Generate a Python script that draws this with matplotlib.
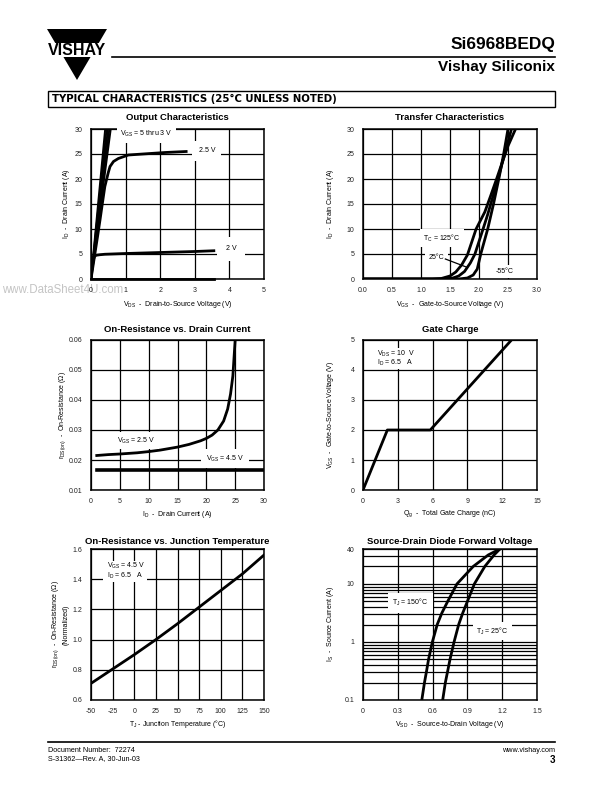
import matplotlib
matplotlib.use('Agg')
import matplotlib.pyplot as plt
from matplotlib import font_manager
from matplotlib.patches import Polygon, Rectangle
from matplotlib.ticker import NullFormatter, FixedLocator

# ---------------- data ----------------
# Output characteristics
bundle_vds_at_30a = [0.41, 0.45, 0.49, 0.53, 0.57]   # VGS = 5 thru 3 V (near-linear)
out25_vds = [0, 0.1, 0.2, 0.26, 0.33, 0.4, 0.5, 0.55, 0.65, 0.79, 1.08, 1.5, 2.14, 2.75]
out25_id = [0, 4.5, 9.0, 11.8, 15.2, 18.5, 21.3, 22.5, 23.5, 24.1, 24.8, 25.0, 25.3, 25.5]
out2_vds = [0, 0.03, 0.07, 0.1, 0.15, 0.25, 0.4, 1.0, 2.0, 3.0, 3.55]
out2_id = [0, 2.0, 3.9, 4.5, 4.75, 4.85, 4.95, 5.1, 5.3, 5.5, 5.65]
out15_vds = [0, 3.55]
out15_id = [0, 0]

# Transfer characteristics
t125_vgs = [0, 1.2, 1.35, 1.5, 1.6, 1.7, 1.8, 1.95, 2.1, 2.2, 2.3, 2.4, 2.5, 2.63]
t125_id = [0, 0, 0.1, 0.6, 1.4, 2.8, 4.8, 10.0, 13.4, 16.6, 19.9, 23.3, 26.6, 30]
t25_vgs = [0, 1.4, 1.55, 1.65, 1.75, 1.85, 1.93, 2.07, 2.15, 2.25, 2.35, 2.45, 2.56]
t25_id = [0, 0, 0.2, 0.6, 1.5, 3.2, 5.0, 10.0, 12.9, 16.9, 21.0, 25.3, 30]
tm55_vgs = [0, 1.65, 1.8, 1.9, 1.97, 2.03, 2.15, 2.25, 2.35, 2.43, 2.5]
tm55_id = [0, 0, 0.2, 0.8, 2.0, 5.0, 10.0, 15.0, 20.5, 25.3, 30]

# On-resistance vs drain current
ron25_id = [1, 3, 5, 8, 10, 12, 15, 17, 19, 20, 21, 22, 23, 23.7, 24.2, 24.6, 25]
ron25_r = [0.0215, 0.0218, 0.0220, 0.0224, 0.0228, 0.0233, 0.0243, 0.0252, 0.0264,
           0.0272, 0.0283, 0.0300, 0.0330, 0.0370, 0.0420, 0.0480, 0.0600]
ron45_id = [1, 30]
ron45_r = [0.0166, 0.0166]

# Gate charge
qg_nc = [0, 2.1, 5.8, 12.8]
qg_vgs = [0, 2.0, 2.0, 5.0]

# On-resistance vs junction temperature
tj_c = [-50, -25, 0, 25, 50, 75, 100, 125, 150]
rnorm = [0.71, 0.805, 0.90, 1.0, 1.105, 1.215, 1.325, 1.435, 1.56]

# Source-drain diode forward voltage
diode_is = [0.1, 0.2, 0.316, 0.5, 1, 2, 3.16, 5, 10, 20, 31.6, 40]
d150_vsd = [0.507, 0.53, 0.548, 0.565, 0.598, 0.64, 0.68, 0.73, 0.81, 0.95, 1.08, 1.18]
d25_vsd = [0.687, 0.71, 0.73, 0.75, 0.785, 0.825, 0.86, 0.90, 0.96, 1.05, 1.13, 1.18]

# ---------------- style ----------------
def has_font(name):
    try:
        font_manager.findfont(font_manager.FontProperties(family=name), fallback_to_default=False)
        return True
    except Exception:
        return False

SANS = 'Liberation Sans'
NARROW = 'Liberation Sans Narrow' if has_font('Liberation Sans Narrow') else 'Liberation Sans'

plt.rcParams['font.family'] = [SANS, 'DejaVu Sans']
plt.rcParams['mathtext.fontset'] = 'custom'
plt.rcParams['mathtext.rm'] = SANS
plt.rcParams['mathtext.it'] = SANS
plt.rcParams['mathtext.bf'] = SANS + ':bold'
plt.rcParams['mathtext.default'] = 'regular'
plt.rcParams['axes.unicode_minus'] = False

W, H = 612, 792
fig = plt.figure(figsize=(W / 100, H / 100), dpi=100)

# overlay axes in pixel coordinates
ov = fig.add_axes([0, 0, 1, 1])
ov.set_xlim(0, W)
ov.set_ylim(H, 0)
ov.axis('off')

LW = 2.0
GRID_LW = 0.9
TICK_FS = 5
LAB_FS = 5
TITLE_FS = 6.8
BOX = dict(facecolor='white', edgecolor='none', pad=2.5)

def add_ax(x0, y0, x1, y1):
    return fig.add_axes([x0 / W, 1 - y1 / H, (x1 - x0) / W, (y1 - y0) / H])

def style(ax):
    ax.grid(True, which='major', color='black', lw=GRID_LW)
    ax.set_axisbelow(True)
    ax.tick_params(length=0, labelsize=TICK_FS, pad=6, colors='#222222')
    for s in ax.spines.values():
        s.set_linewidth(1.1)
        s.set_color('black')

def ftext(x, y, s, **kw):
    ov.text(x, y, s, **kw)

def panel_text(ax_box, title, xlabel, ylabel, ylab_x, title_y, xlab_y):
    x0, y0, x1, y1 = ax_box
    cx = (x0 + x1) / 2
    ftext(cx, title_y, title, ha='center', va='center', fontsize=TITLE_FS,
          fontweight='bold', family=[NARROW, 'DejaVu Sans'])
    ftext(cx, xlab_y, xlabel, ha='center', va='center', fontsize=LAB_FS)
    ftext(ylab_x, (y0 + y1) / 2, ylabel, ha='center', va='center', fontsize=LAB_FS,
          rotation=90, multialignment='center')

# ---------------- header ----------------
ov.add_patch(Polygon([[47, 29], [107, 29], [77, 80]], closed=True, facecolor='black', edgecolor='none'))
ov.add_patch(Rectangle((40, 42.5), 75, 14, facecolor='white', edgecolor='none'))
ftext(77, 50.5, 'VISHAY', ha='center', va='center', fontsize=11.5, fontweight='bold',
      family=[SANS])
ov.plot([112, 555], [57, 57], color='black', lw=1.2)
ftext(555, 45, 'Si6968BEDQ', ha='right', va='center', fontsize=12.5, fontweight='bold',
      family=[NARROW, SANS])
ftext(555, 67, 'Vishay Siliconix', ha='right', va='center', fontsize=11, fontweight='bold',
      family=[NARROW, SANS])
ov.add_patch(Rectangle((48, 91), 507, 16, facecolor='white', edgecolor='black', lw=1.0))
ftext(52, 99, 'TYPICAL CHARACTERISTICS (25°C UNLESS NOTED)', ha='left', va='center',
      fontsize=7.3, fontweight='bold', family=['DejaVu Sans'])

# ---------------- footer ----------------
ov.plot([48, 555], [742, 742], color='black', lw=1.2)
ftext(48, 750, 'Document Number:  72274', ha='left', va='center', fontsize=5.2)
ftext(48, 759, 'S-31362\u2014Rev. A, 30-Jun-03', ha='left', va='center', fontsize=5.2)
ftext(555, 750, 'www.vishay.com', ha='right', va='center', fontsize=5.2)
ftext(555, 760, '3', ha='right', va='center', fontsize=7, fontweight='bold')

# watermark
ftext(2, 290, 'www.DataSheet4U.com', ha='left', va='center', fontsize=8.3, color='#c4c4c4', zorder=0)

# ---------------- panel 1: output characteristics ----------------
b1 = (91, 129, 264, 279)
ax = add_ax(*b1)
for v in bundle_vds_at_30a:
    ax.plot([0, v], [0, 30], color='black', lw=1.4, clip_on=True)
ax.plot(out25_vds, out25_id, color='black', lw=LW)
ax.plot(out2_vds, out2_id, color='black', lw=LW)
ax.plot(out15_vds, out15_id, color='black', lw=LW, clip_on=False)
ax.set_xlim(0, 5)
ax.set_ylim(0, 30)
ax.set_xticks([0, 1, 2, 3, 4, 5])
ax.set_yticks([0, 5, 10, 15, 20, 25, 30])
style(ax)
ax.text(0.85, 29.0, 'V$_{GS}$ = 5 thru 3 V', fontsize=5, ha='left', va='center', bbox=BOX, zorder=5)
ax.text(3.35, 25.6, '2.5 V', fontsize=5, ha='center', va='center',
        bbox=dict(facecolor='white', edgecolor='none', boxstyle='square,pad=0.9'), zorder=5)
ax.text(4.05, 6.0, '2 V', fontsize=5, ha='center', va='center',
        bbox=dict(facecolor='white', edgecolor='none', boxstyle='square,pad=1.2'), zorder=5)
panel_text(b1, 'Output Characteristics', 'V$_{DS}$  -  Drain-to-Source Voltage (V)',
           'I$_{D}$  -  Drain Current (A)', 67, 118, 305)

# ---------------- panel 2: transfer characteristics ----------------
b2 = (363, 129, 537, 279)
ax = add_ax(*b2)
ax.plot(t125_vgs, t125_id, color='black', lw=LW)
ax.plot(t25_vgs, t25_id, color='black', lw=LW)
ax.plot(tm55_vgs, tm55_id, color='black', lw=LW)
ax.set_xlim(0, 3)
ax.set_ylim(0, 30)
ax.set_xticks([0, 0.5, 1, 1.5, 2, 2.5, 3])
ax.set_xticklabels(['0.0', '0.5', '1.0', '1.5', '2.0', '2.5', '3.0'])
ax.set_yticks([0, 5, 10, 15, 20, 25, 30])
style(ax)
ax.text(1.36, 8.2, 'T$_{C}$ = 125°C', fontsize=5, ha='center', va='center', bbox=BOX, zorder=5)
ax.text(1.27, 4.3, '25°C', fontsize=5, ha='center', va='center', bbox=BOX, zorder=5)
ax.plot([1.42, 1.78], [4.0, 2.4], color='black', lw=0.9, zorder=6)
ax.text(2.44, 1.5, '-55°C', fontsize=5, ha='center', va='center', bbox=BOX, zorder=5)
panel_text(b2, 'Transfer Characteristics', 'V$_{GS}$  -  Gate-to-Source Voltage (V)',
           'I$_{D}$  -  Drain Current (A)', 330, 118, 305)

# ---------------- panel 3: on-resistance vs drain current ----------------
b3 = (91, 340, 264, 490)
ax = add_ax(*b3)
ax.plot(ron25_id, ron25_r, color='black', lw=LW)
ax.plot(ron45_id, ron45_r, color='black', lw=2.6)
ax.set_xlim(0, 30)
ax.set_ylim(0.01, 0.06)
ax.set_xticks([0, 5, 10, 15, 20, 25, 30])
ax.set_yticks([0.01, 0.02, 0.03, 0.04, 0.05, 0.06])
ax.set_yticklabels(['0.01', '0.02', '0.03', '0.04', '0.05', '0.06'])
style(ax)
ax.text(7.8, 0.0265, 'V$_{GS}$ = 2.5 V', fontsize=5, ha='center', va='center', bbox=BOX, zorder=5)
ax.text(23.3, 0.0205, 'V$_{GS}$ = 4.5 V', fontsize=5, ha='center', va='center',
        bbox=dict(facecolor='white', edgecolor='none', boxstyle='square,pad=0.7'), zorder=5)
panel_text(b3, 'On-Resistance vs. Drain Current', 'I$_{D}$  -  Drain Current (A)',
           'r$_{DS(on)}$  -  On-Resistance (Ω)', 63, 329, 514)

# ---------------- panel 4: gate charge ----------------
b4 = (363, 340, 537, 490)
ax = add_ax(*b4)
ax.plot(qg_nc, qg_vgs, color='black', lw=LW)
ax.set_xlim(0, 15)
ax.set_ylim(0, 5)
ax.set_xticks([0, 3, 6, 9, 12, 15])
ax.set_yticks([0, 1, 2, 3, 4, 5])
style(ax)
ax.add_patch(Rectangle((1.0, 4.03), 4.75, 0.69, facecolor='white', edgecolor='none', zorder=4))
ax.text(1.2, 4.54, 'V$_{DS}$ = 10  V', fontsize=5, ha='left', va='center', zorder=5)
ax.text(1.2, 4.24, 'I$_{D}$ = 6.5   A', fontsize=5, ha='left', va='center', zorder=5)
panel_text(b4, 'Gate Charge', 'Q$_{g}$  -  Total Gate Charge (nC)',
           'V$_{GS}$  -  Gate-to-Source Voltage (V)', 330, 329, 514)

# ---------------- panel 5: on-resistance vs junction temperature ----------------
b5 = (91, 549, 264, 700)
ax = add_ax(*b5)
ax.plot(tj_c, rnorm, color='black', lw=LW)
ax.set_xlim(-50, 150)
ax.set_ylim(0.6, 1.6)
ax.set_xticks([-50, -25, 0, 25, 50, 75, 100, 125, 150])
ax.set_yticks([0.6, 0.8, 1.0, 1.2, 1.4, 1.6])
ax.set_yticklabels(['0.6', '0.8', '1.0', '1.2', '1.4', '1.6'])
style(ax)
ax.add_patch(Rectangle((-36, 1.38), 51, 0.14, facecolor='white', edgecolor='none', zorder=4))
ax.text(-31.5, 1.488, 'V$_{GS}$ = 4.5 V', fontsize=5, ha='left', va='center', zorder=5)
ax.text(-31.5, 1.425, 'I$_{D}$ = 6.5   A', fontsize=5, ha='left', va='center', zorder=5)
panel_text(b5, 'On-Resistance vs. Junction Temperature', 'T$_{J}$ - Junction Temperature (°C)',
           'r$_{DS(on)}$  -  On-Resistance (Ω)\n(Normalized)', 60, 541, 724)

# ---------------- panel 6: source-drain diode forward voltage ----------------
b6 = (363, 549, 537, 700)
ax = add_ax(*b6)
ax.plot(d150_vsd, diode_is, color='black', lw=LW)
ax.plot(d25_vsd, diode_is, color='black', lw=LW)
ax.set_yscale('log')
ax.set_xlim(0, 1.5)
ax.set_ylim(0.1, 40)
ax.set_xticks([0, 0.3, 0.6, 0.9, 1.2, 1.5])
ax.set_xticklabels(['0', '0.3', '0.6', '0.9', '1.2', '1.5'])
ax.yaxis.set_major_locator(FixedLocator([0.1, 1, 10, 40]))
ax.set_yticklabels(['0.1', '1', '10', '40'])
minor = [0.2, 0.3, 0.4, 0.5, 0.6, 0.7, 0.8, 0.9, 2, 3, 4, 5, 6, 7, 8, 9, 20, 30]
ax.yaxis.set_minor_locator(FixedLocator(minor))
ax.yaxis.set_minor_formatter(NullFormatter())
style(ax)
ax.grid(True, which='minor', axis='y', color='black', lw=GRID_LW)
ax.tick_params(which='minor', length=0)
ax.text(0.41, 4.74, 'T$_{J}$ = 150°C', fontsize=5, ha='center', va='center',
        bbox=dict(facecolor='white', edgecolor='none', boxstyle='square,pad=0.6'), zorder=5)
ax.text(1.114, 1.53, 'T$_{J}$ = 25°C', fontsize=5, ha='center', va='center', bbox=BOX, zorder=5)
panel_text(b6, 'Source-Drain Diode Forward Voltage', 'V$_{SD}$  -  Source-to-Drain Voltage (V)',
           'I$_{S}$  -  Source Current (A)', 330, 541, 724)

fig.savefig('out.png', dpi=100)
